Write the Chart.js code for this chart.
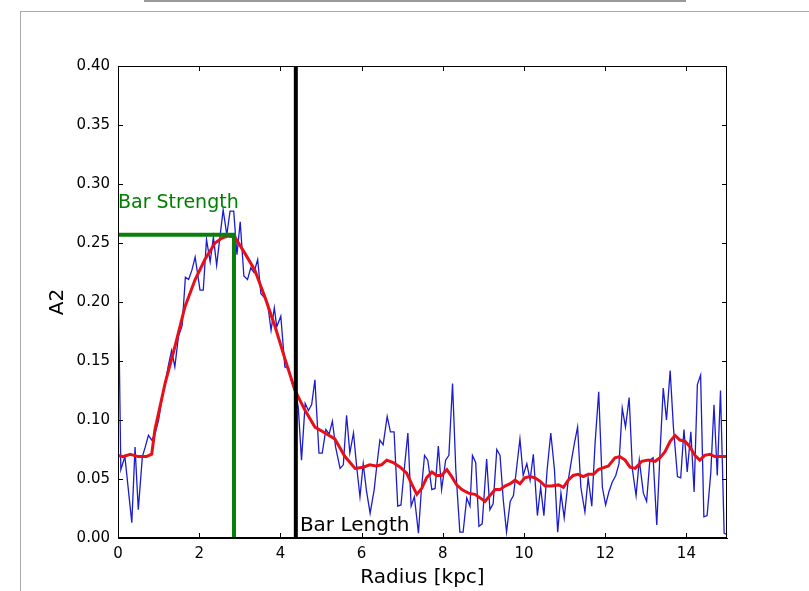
<!DOCTYPE html>
<html>
<head>
<meta charset="utf-8">
<script src="https://cdn.jsdelivr.net/npm/chart.js@4.4.1/dist/chart.umd.min.js"></script>
<style>
  html, body { margin: 0; padding: 0; background: #fff; }
  #wrap { position: relative; width: 809px; height: 591px; overflow: hidden; }
  #topline { position: absolute; left: 144px; top: 0; width: 542px; height: 2px; background: #999; }
  #frame { position: absolute; left: 20px; top: 11px; width: 900px; height: 700px; border-top: 1px solid #aaa; border-left: 1px solid #aaa; }
  #chart { position: absolute; left: 0; top: 0; }
</style>
</head>
<body>
<div id="wrap">
  <div id="topline"></div>
  <div id="frame"></div>
  <canvas id="chart" width="809" height="591"></canvas>
</div>
<script>
// 生データ（青）: 半径 [kpc] と A2
const rawRadius = [
  0.00, 0.07, 0.17, 0.34, 0.42, 0.50, 0.60, 0.67, 0.75, 0.83,
  0.91, 1.00, 1.08, 1.16, 1.24, 1.32, 1.40, 1.49, 1.58, 1.66,
  1.74, 1.82, 1.90, 2.02, 2.10, 2.18, 2.27, 2.35, 2.43, 2.51,
  2.59, 2.68, 2.76, 2.85, 2.93, 3.01, 3.10, 3.19, 3.27, 3.35,
  3.44, 3.52, 3.60, 3.68, 3.77, 3.85, 3.91, 4.01, 4.11, 4.20,
  4.28, 4.36, 4.44, 4.52, 4.61, 4.69, 4.77, 4.85, 4.95, 5.03,
  5.12, 5.20, 5.28, 5.36, 5.47, 5.55, 5.63, 5.71, 5.80, 5.88,
  5.96, 6.04, 6.12, 6.21, 6.31, 6.37, 6.45, 6.53, 6.63, 6.71,
  6.80, 6.89, 6.97, 7.05, 7.14, 7.22, 7.30, 7.40, 7.47, 7.55,
  7.63, 7.73, 7.81, 7.89, 7.97, 8.07, 8.15, 8.24, 8.32, 8.42,
  8.50, 8.59, 8.67, 8.73, 8.81, 8.89, 8.97, 9.08, 9.16, 9.24,
  9.33, 9.41, 9.49, 9.57, 9.66, 9.74, 9.82, 9.90, 9.98, 10.07,
  10.15, 10.23, 10.33, 10.41, 10.49, 10.57, 10.66, 10.75, 10.83, 10.91,
  10.99, 11.09, 11.17, 11.24, 11.32, 11.40, 11.50, 11.58, 11.67, 11.75,
  11.84, 11.93, 12.01, 12.09, 12.17, 12.26, 12.34, 12.42, 12.50, 12.59,
  12.67, 12.76, 12.84, 12.94, 13.02, 13.10, 13.18, 13.27, 13.35, 13.43,
  13.51, 13.60, 13.68, 13.78, 13.86, 13.94, 14.02, 14.11, 14.19, 14.27,
  14.35, 14.43, 14.51, 14.60, 14.68, 14.76, 14.84, 14.93, 15.00
];
const rawA2 = [
  0.235, 0.058, 0.069, 0.013, 0.077, 0.024, 0.069, 0.077, 0.087, 0.083,
  0.088, 0.100, 0.117, 0.131, 0.146, 0.159, 0.145, 0.171, 0.180, 0.221,
  0.219, 0.227, 0.238, 0.210, 0.210, 0.253, 0.234, 0.255, 0.231, 0.255,
  0.278, 0.257, 0.277, 0.277, 0.240, 0.268, 0.222, 0.219, 0.229, 0.225,
  0.236, 0.207, 0.204, 0.200, 0.176, 0.195, 0.179, 0.188, 0.145, 0.144,
  0.132, 0.125, 0.111, 0.066, 0.114, 0.108, 0.113, 0.134, 0.072, 0.072,
  0.092, 0.088, 0.099, 0.077, 0.059, 0.062, 0.104, 0.072, 0.089, 0.060,
  0.035, 0.063, 0.040, 0.021, 0.041, 0.060, 0.083, 0.079, 0.103, 0.090,
  0.090, 0.027, 0.028, 0.058, 0.089, 0.027, 0.035, 0.004, 0.040, 0.070,
  0.066, 0.041, 0.042, 0.078, 0.041, 0.066, 0.070, 0.131, 0.058, 0.005,
  0.005, 0.034, 0.027, 0.070, 0.064, 0.010, 0.012, 0.067, 0.024, 0.029,
  0.075, 0.070, 0.032, 0.005, 0.031, 0.036, 0.060, 0.084, 0.053, 0.063,
  0.049, 0.071, 0.019, 0.043, 0.019, 0.058, 0.089, 0.058, 0.005, 0.038,
  0.017, 0.049, 0.066, 0.080, 0.094, 0.043, 0.022, 0.051, 0.027, 0.080,
  0.124, 0.043, 0.028, 0.039, 0.047, 0.053, 0.063, 0.110, 0.094, 0.119,
  0.058, 0.036, 0.066, 0.038, 0.031, 0.066, 0.068, 0.011, 0.072, 0.127,
  0.100, 0.142, 0.094, 0.052, 0.051, 0.092, 0.056, 0.090, 0.039, 0.130,
  0.138, 0.018, 0.019, 0.055, 0.113, 0.053, 0.125, 0.004, 0.003
];

// 平滑化後（赤）
const smoothRadius = [
  0.00, 0.12, 0.30, 0.50, 0.70, 0.83, 0.91, 1.16, 1.40, 1.65,
  1.90, 2.14, 2.39, 2.55, 2.70, 2.88, 3.13, 3.37, 3.62, 3.87,
  4.11, 4.36, 4.61, 4.85, 5.10, 5.34, 5.59, 5.84, 6.04, 6.20,
  6.35, 6.49, 6.62, 6.78, 6.95, 7.11, 7.23, 7.36, 7.48, 7.60,
  7.73, 7.85, 7.97, 8.10, 8.22, 8.34, 8.47, 8.63, 8.79, 8.92,
  9.04, 9.16, 9.29, 9.41, 9.53, 9.66, 9.78, 9.90, 10.02, 10.15,
  10.27, 10.40, 10.52, 10.68, 10.85, 10.97, 11.09, 11.21, 11.33, 11.46,
  11.58, 11.71, 11.83, 11.91, 12.08, 12.24, 12.36, 12.49, 12.61, 12.74,
  12.90, 13.06, 13.23, 13.35, 13.47, 13.60, 13.72, 13.84, 13.97, 14.09,
  14.21, 14.33, 14.45, 14.58, 14.70, 14.87, 15.00
];
const smoothA2 = [
  0.070, 0.069, 0.071, 0.069, 0.069, 0.071, 0.092, 0.131, 0.162, 0.196,
  0.219, 0.236, 0.250, 0.254, 0.256, 0.255, 0.241, 0.227, 0.204, 0.179,
  0.152, 0.125, 0.108, 0.094, 0.089, 0.084, 0.069, 0.059, 0.060, 0.062,
  0.061, 0.062, 0.066, 0.064, 0.060, 0.055, 0.046, 0.037, 0.042, 0.051,
  0.056, 0.053, 0.053, 0.058, 0.052, 0.045, 0.041, 0.038, 0.037, 0.034,
  0.031, 0.036, 0.041, 0.041, 0.044, 0.046, 0.049, 0.046, 0.051, 0.052,
  0.051, 0.048, 0.044, 0.044, 0.045, 0.043, 0.049, 0.053, 0.054, 0.052,
  0.054, 0.054, 0.058, 0.059, 0.061, 0.068, 0.069, 0.066, 0.060, 0.059,
  0.065, 0.066, 0.065, 0.068, 0.073, 0.082, 0.087, 0.083, 0.082, 0.077,
  0.070, 0.066, 0.070, 0.071, 0.069, 0.069, 0.069
];

// バー強度・バー長
const barStrength = 0.257;
const barStrengthRadius = 2.857;
const barLength = 4.38;

// 目盛り
const xTicks = [0, 2, 4, 6, 8, 10, 12, 14];
const yTicks = [0, 0.05, 0.10, 0.15, 0.20, 0.25, 0.30, 0.35, 0.40];

const toPoints = (xs, ys) => xs.map((x, i) => ({ x, y: ys[i] }));

const FONT = "'DejaVu Sans', sans-serif";

// 内向きの目盛り線・枠線・注釈テキスト
const mplStyle = {
  id: 'mplStyle',
  afterDraw(chart) {
    const { ctx, chartArea: a, scales: { x, y } } = chart;
    ctx.save();
    ctx.strokeStyle = '#000';
    ctx.lineWidth = 1;
    ctx.strokeRect(a.left + 0.5, a.top + 0.5, a.right - a.left - 1, a.bottom - a.top - 1);
    ctx.beginPath();
    const tl = 5;
    xTicks.forEach(v => {
      const px = Math.round(x.getPixelForValue(v)) + 0.5;
      ctx.moveTo(px, a.bottom); ctx.lineTo(px, a.bottom - tl);
      ctx.moveTo(px, a.top); ctx.lineTo(px, a.top + tl);
    });
    yTicks.forEach(v => {
      const py = Math.round(y.getPixelForValue(v)) + 0.5;
      ctx.moveTo(a.left, py); ctx.lineTo(a.left + tl, py);
      ctx.moveTo(a.right, py); ctx.lineTo(a.right - tl, py);
    });
    ctx.stroke();

    // 注釈
    ctx.textBaseline = 'alphabetic';
    ctx.textAlign = 'left';
    ctx.fillStyle = '#008000';
    ctx.font = '19px ' + FONT;
    ctx.fillText('Bar Strength', x.getPixelForValue(0), y.getPixelForValue(0.28));
    ctx.fillStyle = '#000';
    ctx.font = '20px ' + FONT;
    ctx.fillText('Bar Length', x.getPixelForValue(barLength + 0.1), y.getPixelForValue(0.006));

    // 軸ラベル
    ctx.textAlign = 'center';
    ctx.textBaseline = 'middle';
    ctx.font = '20px ' + FONT;
    ctx.fillText('Radius [kpc]', (a.left + a.right) / 2, a.bottom + 40);
    ctx.translate(a.left - 60, (a.top + a.bottom) / 2);
    ctx.rotate(-Math.PI / 2);
    ctx.fillText('A2', 0, 0);
    ctx.restore();
  }
};

new Chart(document.getElementById('chart'), {
  type: 'line',
  data: {
    datasets: [
      { label: 'bar length', data: [{ x: barLength, y: 0 }, { x: barLength, y: 0.40 }],
        borderColor: '#000', borderWidth: 4, pointRadius: 0, order: 0 },
      { label: 'bar strength', data: [{ x: 0, y: barStrength }, { x: barStrengthRadius, y: barStrength }, { x: barStrengthRadius, y: 0 }],
        borderColor: '#0a800a', borderWidth: 4, pointRadius: 0, borderJoinStyle: 'miter', order: 1 },
      { label: 'smoothed', data: toPoints(smoothRadius, smoothA2),
        borderColor: '#e81018', borderWidth: 3, pointRadius: 0, order: 2 },
      { label: 'A2', data: toPoints(rawRadius, rawA2),
        borderColor: '#1c1ccc', borderWidth: 1.3, pointRadius: 0, order: 3 }
    ]
  },
  options: {
    responsive: false,
    animation: false,
    devicePixelRatio: 1,
    layout: { padding: { top: 66, right: 82, left: 0, bottom: 0 } },
    plugins: { legend: { display: false }, tooltip: { enabled: false } },
    scales: {
      x: {
        type: 'linear', min: 0, max: 15,
        afterFit: s => { s.height = 53; },
        afterBuildTicks: s => { s.ticks = xTicks.map(v => ({ value: v })); },
        grid: { display: false, drawTicks: false },
        border: { display: true, color: '#000', width: 1 },
        ticks: { color: '#000', padding: 7, font: { family: FONT, size: 15 } }
      },
      y: {
        type: 'linear', min: 0, max: 0.40,
        afterFit: s => { s.width = 118; },
        afterBuildTicks: s => { s.ticks = yTicks.map(v => ({ value: v })); },
        grid: { display: false, drawTicks: false },
        border: { display: true, color: '#000', width: 1 },
        ticks: { color: '#000', padding: 8, font: { family: FONT, size: 15 },
          callback: v => v.toFixed(2) }
      }
    }
  },
  plugins: [mplStyle]
});
</script>
</body>
</html>
